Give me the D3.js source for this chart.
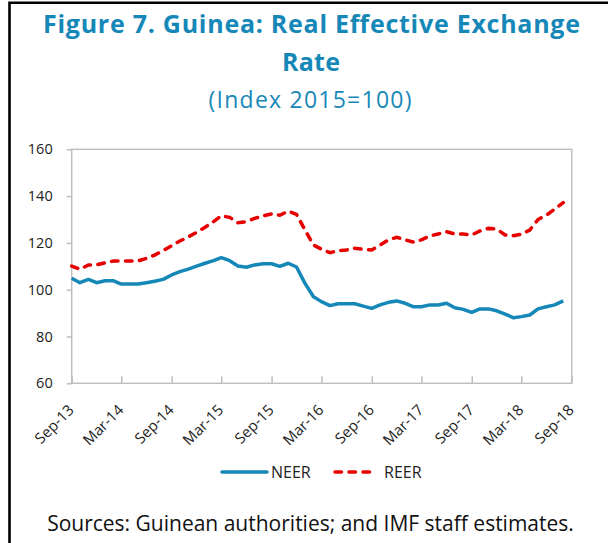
<!DOCTYPE html>
<html>
<head>
<meta charset="utf-8">
<script src="https://cdn.jsdelivr.net/npm/d3@7"></script>
<style>
  html, body { margin: 0; padding: 0; background: #fff; }
  svg { display: block; font-family: "Open Sans", "Noto Sans", sans-serif; }
</style>
</head>
<body>
<script>
const width = 608;
const height = 543;

// monthly data, Sep-13 .. Aug-18
const start = new Date(2013, 8, 1);
const end = new Date(2018, 8, 1);
const neer = [104.9, 103.0, 104.4, 103.0, 103.8, 103.8, 102.4, 102.4, 102.4, 103.0,
  103.6, 104.4, 106.3, 107.7, 108.8, 110.1, 111.3, 112.4, 113.7, 112.4,
  110.1, 109.6, 110.6, 111.1, 111.1, 110.0, 111.3, 109.7, 102.7, 97.0,
  94.9, 93.2, 94.0, 94.0, 94.0, 93.0, 92.0, 93.5, 94.6, 95.2,
  94.2, 92.7, 92.7, 93.5, 93.5, 94.2, 92.3, 91.6, 90.3, 91.8,
  91.8, 91.0, 89.6, 88.0, 88.5, 89.2, 91.8, 92.7, 93.5, 95.2];
const reer = [110.1, 108.7, 110.6, 110.6, 111.5, 112.3, 112.3, 112.3, 112.3, 113.4,
  114.8, 116.7, 118.8, 120.8, 122.6, 124.5, 126.7, 129.1, 131.6, 130.9,
  128.6, 129.1, 130.5, 131.5, 132.4, 131.8, 133.6, 132.2, 125.5, 119.1,
  117.3, 115.8, 116.7, 117.0, 117.7, 117.3, 117.0, 119.1, 121.3, 122.4,
  121.3, 120.3, 121.3, 123.0, 123.8, 124.8, 123.8, 123.8, 123.4, 125.1,
  126.2, 125.9, 123.4, 123.1, 123.7, 125.5, 130.0, 131.9, 134.4, 137.2];
const yTicks = [60, 80, 100, 120, 140, 160];
const xTickLabels = ['Sep-13', 'Mar-14', 'Sep-14', 'Mar-15', 'Sep-15', 'Mar-16',
  'Sep-16', 'Mar-17', 'Sep-17', 'Mar-18', 'Sep-18'];
const months = d3.timeMonth.range(start, end);

const parseTick = d3.timeParse('%b-%y');
const blue = '#1688b8';
const red = '#e60000';
const grid = '#bfbfbf';

const plot = { left: 71.7, right: 571.7, top: 149.3, bottom: 383.3 };

const svg = d3.select('body').append('svg')
    .attr('width', width)
    .attr('height', height);

// outer black frame (top and left edges visible)
svg.append('path')
    .attr('d', `M9.5,${height} V2.8 H${width}`)
    .attr('fill', 'none')
    .attr('stroke', '#000')
    .attr('stroke-width', 2.6);

// titles
svg.append('text')
    .attr('x', 311.5).attr('y', 33)
    .attr('text-anchor', 'middle')
    .attr('textLength', 537)
    .attr('lengthAdjust', 'spacing')
    .style('font-size', '25px')
    .style('font-weight', 700)
    .style('fill', blue)
    .text('Figure 7. Guinea: Real Effective Exchange');
svg.append('text')
    .attr('x', 311).attr('y', 71)
    .attr('text-anchor', 'middle')
    .attr('textLength', 58)
    .attr('lengthAdjust', 'spacing')
    .style('font-size', '25px')
    .style('font-weight', 700)
    .style('fill', blue)
    .text('Rate');
svg.append('text')
    .attr('x', 310).attr('y', 108)
    .attr('text-anchor', 'middle')
    .attr('textLength', 203)
    .attr('lengthAdjust', 'spacing')
    .style('font-size', '23px')
    .style('fill', blue)
    .text('(Index 2015=100)');

const x = d3.scaleTime()
    .domain([start, end])
    .range([plot.left, plot.right]);
const y = d3.scaleLinear()
    .domain([60, 160])
    .range([plot.bottom, plot.top]);

// plot frame
svg.append('rect')
    .attr('x', plot.left).attr('y', plot.top)
    .attr('width', plot.right - plot.left)
    .attr('height', plot.bottom - plot.top)
    .attr('fill', 'none')
    .attr('stroke', grid)
    .attr('stroke-width', 1.5);

const yAxis = svg.append('g')
    .attr('transform', `translate(${plot.left},0)`)
    .call(d3.axisLeft(y).tickValues(yTicks).tickSize(5).tickPadding(14));
yAxis.select('.domain').remove();
yAxis.selectAll('line').attr('stroke', grid).attr('stroke-width', 1.5);
yAxis.selectAll('text')
    .style('font-size', '14.5px')
    .style('font-family', '"Open Sans", sans-serif')
    .attr('fill', '#222');

const xAxis = svg.append('g')
    .attr('transform', `translate(0,${plot.bottom})`)
    .call(d3.axisBottom(x)
        .tickValues(xTickLabels.map(parseTick))
        .tickFormat(d3.timeFormat('%b-%y'))
        .tickSize(-7));
xAxis.select('.domain').remove();
xAxis.selectAll('line').attr('stroke', grid).attr('stroke-width', 1.5);
xAxis.selectAll('text')
    .attr('y', 0)
    .attr('dy', '0.35em')
    .attr('transform', 'translate(-1,24) rotate(-45)')
    .attr('text-anchor', 'end')
    .style('font-size', '15px')
    .style('font-family', '"Open Sans", sans-serif')
    .attr('fill', '#222');

const line = d3.line()
    .x((d, i) => x(months[i]))
    .y(d => y(d));

svg.append('path')
    .datum(neer)
    .attr('d', line)
    .attr('fill', 'none')
    .attr('stroke', blue)
    .attr('stroke-width', 3.5)
    .attr('stroke-linejoin', 'round');

svg.append('path')
    .datum(reer)
    .attr('d', line)
    .attr('fill', 'none')
    .attr('stroke', red)
    .attr('stroke-width', 3.5)
    .attr('stroke-dasharray', '6.5,7.5')
    .attr('stroke-linecap', 'round');

// legend
const legend = svg.append('g');
legend.append('line')
    .attr('x1', 222).attr('x2', 267).attr('y1', 472).attr('y2', 472)
    .attr('stroke', blue).attr('stroke-width', 3.5).attr('stroke-linecap', 'round');
legend.append('text')
    .attr('x', 271).attr('y', 478)
    .style('font-size', '16px').attr('fill', '#222')
    .text('NEER');
legend.append('line')
    .attr('x1', 335).attr('x2', 373).attr('y1', 472).attr('y2', 472)
    .attr('stroke', red).attr('stroke-width', 3.5)
    .attr('stroke-dasharray', '6.5,7.5').attr('stroke-linecap', 'round');
legend.append('text')
    .attr('x', 384).attr('y', 478)
    .style('font-size', '16px').attr('fill', '#222')
    .text('REER');

svg.append('text')
    .attr('x', 310.5).attr('y', 530.5)
    .attr('text-anchor', 'middle')
    .style('font-size', '21px')
    .attr('fill', '#111')
    .text('Sources: Guinean authorities; and IMF staff estimates.');
</script>
</body>
</html>
